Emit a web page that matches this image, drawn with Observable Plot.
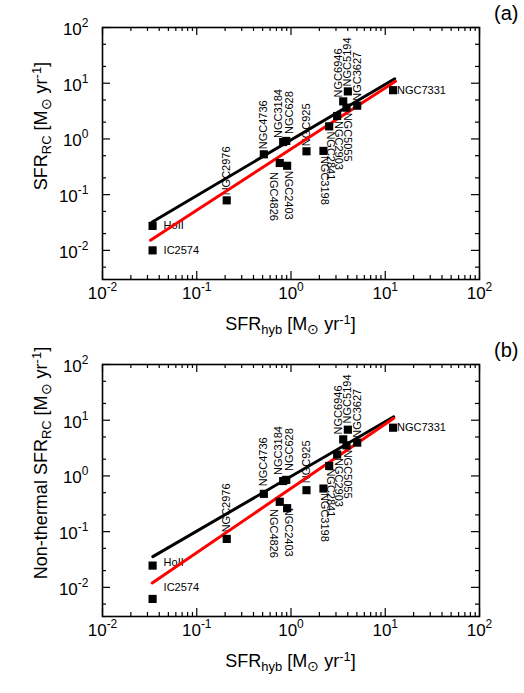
<!DOCTYPE html>
<html><head><meta charset="utf-8">
<script src="https://cdn.jsdelivr.net/npm/d3@7"></script>
<script src="https://cdn.jsdelivr.net/npm/@observablehq/plot@0.6"></script>
<style>
body{margin:0;background:#fff;}
#wrap{position:relative;width:524px;height:693px;font-family:"Liberation Sans",Arial,sans-serif;color:#000;overflow:hidden;background:#fff}
.panel{position:absolute;left:0;}
.ttl{position:absolute;font-size:18px;line-height:20px;height:20px;white-space:nowrap;text-align:center}
.sb{font-size:0.72em;position:relative;top:0.3em}
.sp{font-size:0.72em;position:relative;top:-0.45em}
.sun{font-size:0.75em;position:relative;top:0.3em}
.tag{position:absolute;font-size:20px;line-height:22px}
</style></head>
<body><div id="wrap"></div>
<script>
// ---- data ----
const galaxies = ["HoII","IC2574","NGC2976","NGC4736","NGC4826","NGC2403","NGC3184","NGC628","NGC925","NGC3198","NGC2841","NGC2903","NGC6946","NGC5055","NGC5194","NGC3627","NGC7331"];
const sfrHyb   = [0.034,0.034,0.208,0.515,0.76,0.91,0.826,0.89,1.46,2.21,2.54,3.09,3.58,3.88,4.01,5.04,12.1];
const sfrRC    = [0.0275,0.0100,0.079,0.53,0.37,0.33,0.88,0.92,0.60,0.61,1.68,2.58,4.72,3.64,7.13,3.95,7.5];
const sfrRCnt  = [0.0246,0.0062,0.074,0.477,0.343,0.264,0.81,0.85,0.555,0.594,1.51,2.42,4.54,3.54,6.76,3.96,7.34];
const labelSide = ["right","right","up","up","downL","down","upL","upR","up","down","down","down","upL","down","up","up","rightNear"];

const fitA_black = {x:[0.0337,12.6], y:[0.0324,12.05]};
const fitA_red   = {x:[0.0323,12.85], y:[0.01524,10.8]};
const fitB_black = {x:[0.0342,12.3], y:[0.0356,11.55]};
const fitB_red   = {x:[0.0337,12.3], y:[0.0120,10.8]};

const xMajor = [0.01,0.1,1,10,100];
const yMajor = [0.01,0.1,1,10,100];
const xMinorMult = [2,3,4,5,6,7,8,9];
const yMinorMult = [2,5];
const decadeStarts = [0.001,0.01,0.1,1,10];
const xDomain = [0.01,100];
const yDomain = [0.003,100];

// ---- layout ----
const W = 524, H = 340, ML = 102, MR = 45, MT = 27, MB = 61;
const innerW = W-ML-MR, innerH = H-MT-MB;

const xMinor = decadeStarts.flatMap(d=>xMinorMult.map(k=>+(k*d).toPrecision(3))).filter(v=>v>xDomain[0]&&v<xDomain[1]);
const yMinor = decadeStarts.flatMap(d=>yMinorMult.map(k=>+(k*d).toPrecision(3))).filter(v=>v>yDomain[0]&&v<yDomain[1]);

const fmt = d => "10^" + Math.round(Math.log10(d));

const labelRows = galaxies.map((g,i)=>({name:g, hyb:sfrHyb[i], rc:sfrRC[i], side:labelSide[i]}));
const placements = {
  up:        {rotate:-90, textAnchor:"start", dx:0,  dy:-5},
  upL:       {rotate:-90, textAnchor:"start", dx:-5, dy:-4},
  upR:       {rotate:-90, textAnchor:"start", dx:3,  dy:-7},
  down:      {rotate:90,  textAnchor:"start", dx:1,  dy:5},
  downL:     {rotate:90,  textAnchor:"start", dx:-6, dy:9},
  right:     {rotate:0,   textAnchor:"start", dx:11, dy:0},
  rightNear: {rotate:0,   textAnchor:"start", dx:4,  dy:0}
};

function toRows(f){ return f.x.map((x,i)=>({x, y:f.y[i]})); }

function superscripts(svg){
  svg.querySelectorAll("text").forEach(t=>{
    const m = /^10\^(-?\d+)$/.exec(t.textContent.trim());
    if(!m) return;
    t.textContent = "10";
    const ts = document.createElementNS("http://www.w3.org/2000/svg","tspan");
    ts.setAttribute("dy","-8");
    ts.style.fontSize = "12px";
    ts.textContent = m[1];
    t.appendChild(ts);
  });
}

function makePanel(values, fitBlack, fitRed){
  const pts = galaxies.map((g,i)=>({name:g, hyb:sfrHyb[i], v:values[i]}));
  const tickStyle = {stroke:"#000", strokeWidth:1.2};
  const textMarks = Object.entries(placements).map(([k,p]) =>
    Plot.text(labelRows.filter(r=>r.side===k), {x:"hyb", y:"rc", text:"name", fontSize:11, fill:"#000", ...p}));
  const svg = Plot.plot({
    width: W, height: H,
    marginLeft: ML, marginRight: MR, marginTop: MT, marginBottom: MB,
    style: {fontFamily:'"Liberation Sans", Arial, sans-serif', background:"white", color:"black"},
    x: {type:"log", domain:xDomain, label:null},
    y: {type:"log", domain:yDomain, label:null},
    marks: [
      ...textMarks,
      Plot.line(toRows(fitBlack), {x:"x", y:"y", stroke:"#000", strokeWidth:3}),
      Plot.line(toRows(fitRed), {x:"x", y:"y", stroke:"#ff0000", strokeWidth:3}),
      Plot.dot(pts, {x:"hyb", y:"v", symbol:"square", r:4.6, fill:"#000"}),
      Plot.tickX(xMajor, {x:d=>d, insetTop:innerH-8, ...tickStyle}),
      Plot.tickX(xMajor, {x:d=>d, insetBottom:innerH-8, ...tickStyle}),
      Plot.tickX(xMinor, {x:d=>d, insetTop:innerH-4, ...tickStyle}),
      Plot.tickX(xMinor, {x:d=>d, insetBottom:innerH-4, ...tickStyle}),
      Plot.tickY(yMajor, {y:d=>d, insetRight:innerW-8, ...tickStyle}),
      Plot.tickY(yMajor, {y:d=>d, insetLeft:innerW-8, ...tickStyle}),
      Plot.tickY(yMinor, {y:d=>d, insetRight:innerW-4, ...tickStyle}),
      Plot.tickY(yMinor, {y:d=>d, insetLeft:innerW-4, ...tickStyle}),
      Plot.frame({stroke:"#000", strokeWidth:1.6}),
      Plot.axisX({ticks:xMajor, tickSize:0, tickPadding:7, tickFormat:fmt, fontSize:17, label:null}),
      Plot.axisY({ticks:yMajor, tickSize:0, tickPadding:14, tickFormat:fmt, fontSize:17, label:null, dy:2})
    ]
  });
  superscripts(svg);
  return svg;
}

const wrap = document.getElementById("wrap");
function addPanel(top, values, fb, fr, tag, yTitle){
  const div = document.createElement("div");
  div.className = "panel"; div.style.top = top+"px";
  div.appendChild(makePanel(values, fb, fr));
  wrap.appendChild(div);
  const xt = document.createElement("div");
  xt.className = "ttl";
  xt.style.left = ML+"px"; xt.style.width = innerW+"px"; xt.style.top = (top+314)+"px";
  xt.innerHTML = 'SFR<span class="sb">hyb</span> [M<span class="sun">⊙</span> yr<span class="sp">-1</span>]';
  wrap.appendChild(xt);
  const yt = document.createElement("div");
  yt.className = "ttl";
  yt.style.width = "320px"; yt.style.left = (41-160)+"px"; yt.style.top = (top+126-10)+"px";
  yt.style.transform = "rotate(-90deg)";
  yt.innerHTML = yTitle;
  wrap.appendChild(yt);
  const tg = document.createElement("div");
  tg.className = "tag"; tg.style.left = "494px"; tg.style.top = (top+2)+"px";
  tg.textContent = tag;
  wrap.appendChild(tg);
}
addPanel(0, sfrRC, fitA_black, fitA_red, "(a)", 'SFR<span class="sb">RC</span> [M<span class="sun">⊙</span> yr<span class="sp">-1</span>]');
addPanel(337, sfrRCnt, fitB_black, fitB_red, "(b)", 'Non-thermal SFR<span class="sb">RC</span> [M<span class="sun">⊙</span> yr<span class="sp">-1</span>]');
</script>
</body></html>
